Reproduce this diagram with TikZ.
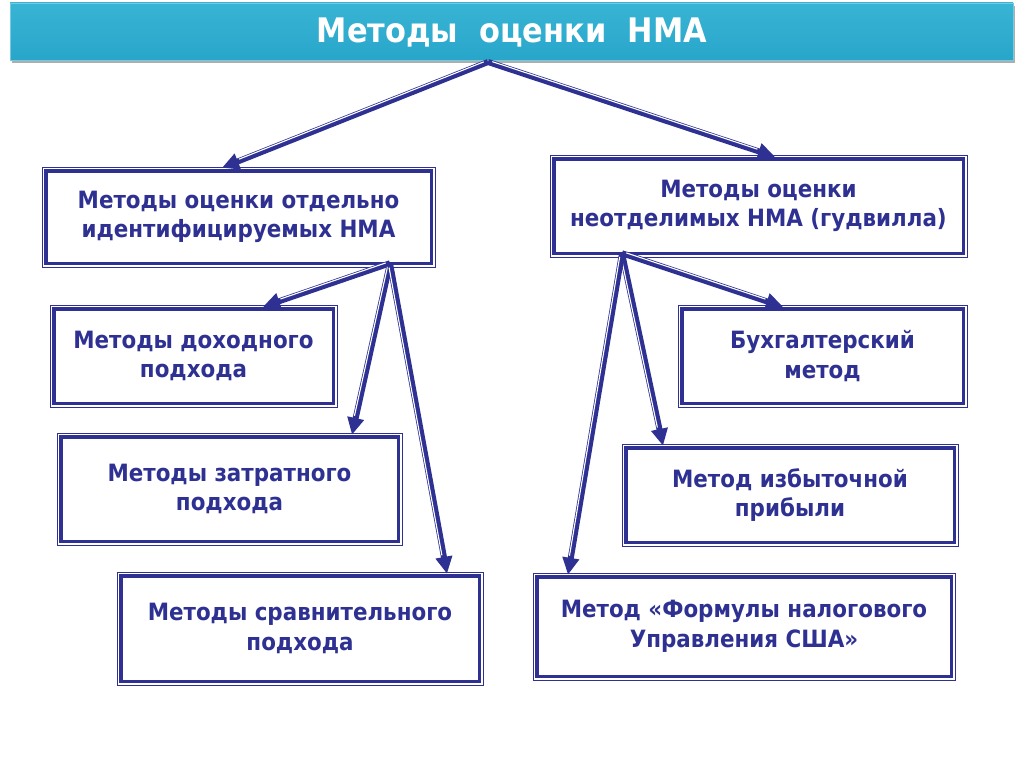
\documentclass[tikz,border=0pt]{standalone}
\usepackage{fontspec}
\setmainfont{DejaVu Sans Condensed Bold}
\usetikzlibrary{arrows.meta,shadows,calc}
\definecolor{navy}{RGB}{46,49,146}
\definecolor{teal1}{RGB}{56,180,212}
\definecolor{teal2}{RGB}{40,166,202}
\tikzset{
  mybox/.style={draw=navy, line width=3.5pt, fill=white, outer sep=0pt, inner sep=0pt,
    text=navy, align=center, font=\fontsize{23.8}{29.5}\selectfont},
  thinframe/.style={draw=navy, line width=0.9pt},
  arr/.style={draw=navy, line width=6pt, -{Triangle[length=17pt,width=16pt]}},
  stripe/.style={draw=white, line width=1.1pt},
}
\newcommand\dbox[6]{%
  \node[mybox, minimum width={#4-#2-7.5}, minimum height={#5-#3-7.5}] (#1) at ({(#2+#4)/2},{(#3+#5)/2}) {#6};
  \draw[thinframe] ([shift={(-3.75pt,3.75pt)}]#1.north west) rectangle ([shift={(3.75pt,-3.75pt)}]#1.south east);
}
% #1 start, #2 end, #3 side angle (+90 / -90)
\newcommand\myarrow[3]{%
  \coordinate (as) at #1;
  \coordinate (ae) at #2;
  \draw[arr] (as) -- (ae);
  \coordinate (se0) at ($(as)!4pt!(ae)$);
  \coordinate (ee0) at ($(ae)!19pt!(as)$);
  \draw[stripe] ($(se0)!1.7pt!#3:(ae)$) -- ($(ee0)!1.7pt!-#3:(as)$);
}
\begin{document}
\begin{tikzpicture}[x=1pt,y=-1pt]
\useasboundingbox (0,0) rectangle (1024,768);
\fill[white] (0,0) rectangle (1024,768);
% title bar
\node[minimum width=1003pt, minimum height=57pt, inner sep=0pt, outer sep=0pt,
  top color=teal1, bottom color=teal2, draw=teal1!70!white, line width=0.8pt,
  drop shadow={shadow xshift=1.5pt, shadow yshift=-3pt, opacity=0.45, fill=black!70}] (T) at (511.5,31.5) {};
\node[text=white, font=\fontsize{33.8}{36}\selectfont] (TT) at (512,32.5) {Методы\ \ оценки\ \ НМА};
% boxes
\dbox{A}{42}{167}{435}{267}{Методы оценки отдельно\\идентифицируемых НМА}
\dbox{B}{550}{155}{967}{257}{Методы оценки\\неотделимых НМА (гудвилла)}
\dbox{C}{50}{305}{337}{407}{Методы доходного\\подхода}
\dbox{D}{57}{433}{402}{545}{Методы затратного\\подхода}
\dbox{E}{117}{572}{483}{685}{Методы сравнительного\\подхода}
\dbox{F}{678}{305}{967}{407}{Бухгалтерский\\метод}
\dbox{G}{622}{444}{958}{546}{Метод избыточной\\прибыли}
\dbox{H}{533}{573}{955}{680}{Метод «Формулы налогового\\Управления США»}
% arrows
\myarrow{([xshift=-23.5pt,yshift=-2pt]T.south)}{([xshift=-16.5pt,yshift=3pt]A.north)}{-90}
\myarrow{([xshift=-23.5pt,yshift=-2pt]T.south)}{([xshift=16.5pt,yshift=2pt]B.north)}{90}
\myarrow{([xshift=151.5pt]A.south)}{([xshift=69.5pt,yshift=2pt]C.north)}{-90}
\myarrow{([xshift=151.5pt]A.south)}{([xshift=122.5pt,yshift=2pt]D.north)}{-90}
\myarrow{([xshift=151.5pt]A.south)}{([xshift=147pt,yshift=2pt]E.north)}{-90}
\myarrow{([xshift=-136.5pt]B.south)}{([xshift=-39.5pt,yshift=2pt]F.north)}{90}
\myarrow{([xshift=-136.5pt]B.south)}{([xshift=-127pt,yshift=2pt]G.north)}{-90}
\myarrow{([xshift=-136.5pt]B.south)}{([xshift=-176pt,yshift=2pt]H.north)}{-90}
\end{tikzpicture}
\end{document}
